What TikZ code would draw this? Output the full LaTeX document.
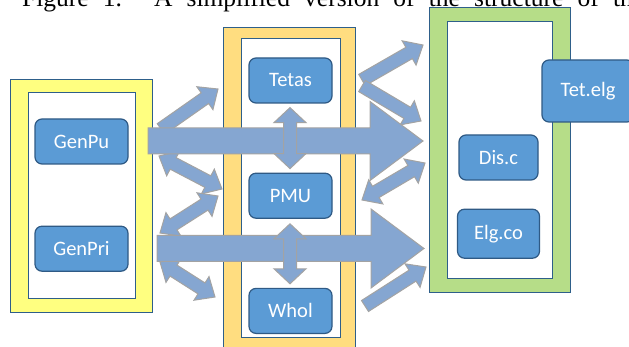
\documentclass[tikz,border=0pt]{standalone}
\usepackage{fontspec}
\newfontfamily\calibri{Carlito}
\newfontfamily\capfont{Liberation Serif}
\usepackage{tikz}
\usetikzlibrary{calc, positioning}

\definecolor{unitblue}{HTML}{5B9BD5}
\definecolor{unitedge}{HTML}{2F5A85}
\definecolor{frameedge}{HTML}{2E5F8A}
\definecolor{pubyellow}{HTML}{FFFF80}
\definecolor{midyellow}{HTML}{FFDD80}
\definecolor{elggreen}{HTML}{B6DD88}
\definecolor{flowblue}{HTML}{85A6D1}
\definecolor{flowedge}{HTML}{A3A3A3}

\begin{document}
\begin{tikzpicture}[
        x = 1pt, y = -1pt, % pixel grid, y going down
        unit/.style = {
            draw = unitedge, line width = 1.2pt,
            fill = unitblue, rounded corners = 7pt,
            text = white, font = \calibri\fontsize{20.5}{24}\selectfont,
            minimum width = 83pt, minimum height = 45pt, inner sep = 0pt
        },
        frame/.style = {draw = frameedge, line width = 1pt},
        flow/.style = {draw = flowedge, fill = flowblue, line width = 1pt},
        % shaft half width / head half width / head length
        onehead/.style n args = {3}{to path = {
            -- ($(\tikztostart)!#1!90:(\tikztotarget)$)
            -- ($(\tikztotarget)!#3!(\tikztostart)!#1!90:(\tikztotarget)$)
            -- ($(\tikztotarget)!#3!(\tikztostart)!#2!90:(\tikztotarget)$)
            -- (\tikztotarget)
            -- ($(\tikztotarget)!#3!(\tikztostart)!#2!-90:(\tikztotarget)$)
            -- ($(\tikztotarget)!#3!(\tikztostart)!#1!-90:(\tikztotarget)$)
            -- ($(\tikztostart)!#1!-90:(\tikztotarget)$)
            -- cycle}},
        twohead/.style n args = {3}{to path = {
            -- ($(\tikztostart)!#3!(\tikztotarget)!#2!90:(\tikztotarget)$)
            -- ($(\tikztostart)!#3!(\tikztotarget)!#1!90:(\tikztotarget)$)
            -- ($(\tikztotarget)!#3!(\tikztostart)!#1!90:(\tikztotarget)$)
            -- ($(\tikztotarget)!#3!(\tikztostart)!#2!90:(\tikztotarget)$)
            -- (\tikztotarget)
            -- ($(\tikztotarget)!#3!(\tikztostart)!#2!-90:(\tikztotarget)$)
            -- ($(\tikztotarget)!#3!(\tikztostart)!#1!-90:(\tikztotarget)$)
            -- ($(\tikztostart)!#3!(\tikztotarget)!#1!-90:(\tikztotarget)$)
            -- ($(\tikztostart)!#3!(\tikztotarget)!#2!-90:(\tikztotarget)$)
            -- cycle}},
        big/.style = {onehead = {13pt}{39.5pt}{53pt}},
        thin/.style = {onehead = {6.5pt}{14pt}{16pt}},
        thinboth/.style = {twohead = {6.5pt}{14pt}{16pt}}
    ]
    \useasboundingbox (0,0) rectangle (629,347);
    \clip (0,0) rectangle (629,347);

    % caption line, cut by the top edge
    \node[anchor = base west, inner sep = 0pt, font = \capfont\fontsize{25.5}{28}\selectfont]
        (caption) at (22,7) {\makebox[622pt][s]{Figure 1. A simplified version of the structure of the}};

    % frames
    \draw[frame, fill = pubyellow] (10,80) rectangle (152,312);
    \draw[frame, fill = white] (28,93) rectangle (135,299);
    \draw[frame, fill = midyellow] (223,28) rectangle (355,352);
    \draw[frame, fill = white] (241,39) rectangle (340,337);
    \draw[frame, fill = elggreen] (429,8) rectangle (570,293);
    \draw[frame, fill = white] (447,22) rectangle (552,279);

    % units
    \node[unit, minimum width = 93pt] (genpu) at (81.5,141.5) {GenPu};
    \node[unit, minimum width = 93pt, below = 61pt of genpu] (genpri) {GenPri};
    \node[unit] (tetas) at (290.5,80.5) {Tetas};
    \node[unit, below = 69pt of tetas] (pmu) {PMU};
    \node[unit, below = 69pt of pmu] (whol) {Whol};
    \node[unit, minimum width = 79pt] (disc) at (498.5,157.5) {Dis.c};
    \node[unit, minimum width = 82pt, minimum height = 49pt, below = 28pt of disc] (elgco) {Elg.co};
    \node[unit, minimum width = 92pt, minimum height = 62pt] (tetelg) at (588,91) {Tet.elg};

    % flow ends
    \coordinate (pu1) at (161,129);   \coordinate (te1) at (218,89);
    \coordinate (pu2) at (159,156);   \coordinate (pm2) at (222,189);
    \coordinate (pr3) at (160,233);   \coordinate (pm3) at (218,196);
    \coordinate (pr4) at (160,262);   \coordinate (wh4) at (215,297);
    \coordinate (te5) at (362,80);    \coordinate (gr5) at (423,45);
    \coordinate (te6) at (362,86);    \coordinate (gr6) at (421,121);
    \coordinate (pm7) at (362,200);   \coordinate (gr7) at (425,163);
    \coordinate (wh8) at (365,306);   \coordinate (gr8) at (426,267);
    \coordinate (bpu) at (148,141);   \coordinate (bgr1) at (423,141);
    \coordinate (bpr) at (157,248.5); \coordinate (bgr2) at (424,248.5);
    \coordinate (v1s) at ($(tetas.south)+(-0.5,4)$);
    \coordinate (v1t) at ($(pmu.north)+(-0.5,-4)$);
    \coordinate (v2s) at ($(pmu.south)+(-0.5,5)$);
    \coordinate (v2t) at ($(whol.north)+(-0.5,-4)$);

    % thin flows
    \draw[flow] (pu1) to[thin] (te1);
    \draw[flow] (pu2) to[thinboth] (pm2);
    \draw[flow] (pr3) to[thinboth] (pm3);
    \draw[flow] (pr4) to[thinboth] (wh4);
    \draw[flow] (te5) to[thin] (gr5);
    \draw[flow] (te6) to[thin] (gr6);
    \draw[flow] (pm7) to[thinboth] (gr7);
    \draw[flow] (wh8) to[thin] (gr8);

    % big flows
    \draw[flow] (bpu) to[big] (bgr1);
    \draw[flow] (bpr) to[big] (bgr2);

    % inside the middle frame
    \draw[flow] (v1s) to[twohead = {6.5pt}{16pt}{15pt}] (v1t);
    \draw[flow] (v2s) to[twohead = {6.5pt}{16pt}{15pt}] (v2t);
\end{tikzpicture}
\end{document}
